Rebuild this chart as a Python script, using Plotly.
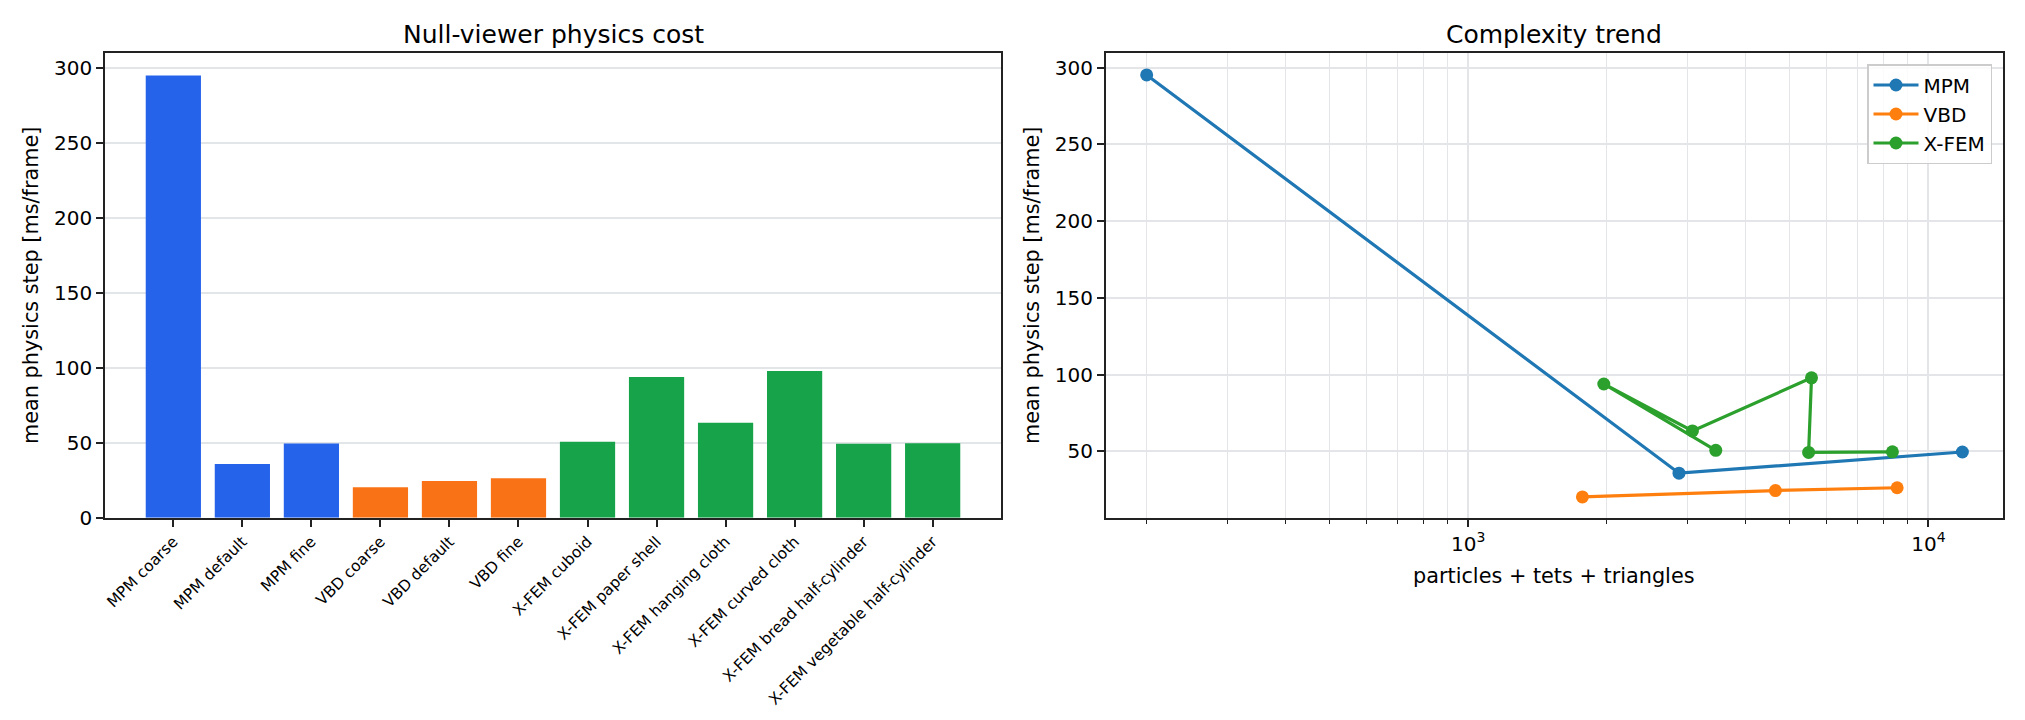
import plotly.graph_objects as go

# ---------------- data ----------------
labels = ["MPM coarse", "MPM default", "MPM fine",
          "VBD coarse", "VBD default", "VBD fine",
          "X-FEM cuboid", "X-FEM paper shell", "X-FEM hanging cloth",
          "X-FEM curved cloth", "X-FEM bread half-cylinder",
          "X-FEM vegetable half-cylinder"]
methods = ["MPM", "MPM", "MPM", "VBD", "VBD", "VBD",
           "X-FEM", "X-FEM", "X-FEM", "X-FEM", "X-FEM", "X-FEM"]
cost_ms = [295.2, 35.8, 49.6, 20.3, 24.5, 26.3, 50.7, 93.9, 63.3, 97.9, 49.3, 49.7]
complexity = [200, 2870, 11850, 1770, 4650, 8550, 3450, 1970, 3070, 5570, 5490, 8350]

method_order = ["MPM", "VBD", "X-FEM"]
minor_ticks = [200, 300, 400, 500, 600, 700, 800, 900,
               2000, 3000, 4000, 5000, 6000, 7000, 8000, 9000]
major_ticks = [1000, 10000]
major_text = ["10<sup>3</sup>", "10<sup>4</sup>"]

# ---------------- style ----------------
bar_colors = {"MPM": "#2563eb", "VBD": "#f97316", "X-FEM": "#16a34a"}
line_colors = {"MPM": "#1f77b4", "VBD": "#ff7f0e", "X-FEM": "#2ca02c"}
FONT = "DejaVu Sans"
SPINE = "#222222"
W, H = 2025, 720

def px_x(p):
    return p / W

def px_y(p):
    return 1 - p / H

fig = go.Figure()

fig.add_trace(go.Bar(
    x=labels, y=cost_ms,
    marker=dict(color=[bar_colors[m] for m in methods], line=dict(width=0)),
    width=0.8, xaxis="x", yaxis="y", showlegend=False,
))

for m in method_order:
    xs = [c for c, mm in zip(complexity, methods) if mm == m]
    ys = [v for v, mm in zip(cost_ms, methods) if mm == m]
    fig.add_trace(go.Scatter(
        x=xs, y=ys, mode="lines+markers", name=m,
        line=dict(color=line_colors[m], width=3.2),
        marker=dict(color=line_colors[m], size=13),
        xaxis="x2", yaxis="y2",
    ))

ydom = [px_y(517.7), px_y(53.3)]
axis_common = dict(
    showline=True, linecolor=SPINE, linewidth=1.6, mirror=True,
    ticks="outside", ticklen=7, tickwidth=1.5, tickcolor=SPINE,
    zeroline=False, automargin=False,
)

fig.update_layout(
    template="none",
    width=W, height=H, autosize=False,
    margin=dict(l=0, r=0, t=0, b=0, pad=0),
    paper_bgcolor="white", plot_bgcolor="white",
    font=dict(family=FONT, color="black", size=20),
    bargap=0.2,
    hovermode=False,
    xaxis=dict(
        domain=[px_x(105), px_x(1001)], anchor="y",
        range=[-0.99, 11.99], type="category",
        tickangle=-45, tickfont=dict(size=15.5),
        showgrid=False, **axis_common,
    ),
    yaxis=dict(
        domain=ydom, anchor="x",
        range=[0, 310], tickmode="array", tickvals=[0, 50, 100, 150, 200, 250, 300],
        tickfont=dict(size=20),
        showgrid=True, gridcolor="rgba(209,213,219,0.6)", gridwidth=1.5,
        layer="above traces",
        **axis_common,
    ),
    xaxis2=dict(
        domain=[px_x(1105.7), px_x(2003)], anchor="y2",
        type="log", range=[2.212, 4.162],
        tickmode="array", tickvals=major_ticks, ticktext=major_text,
        tickfont=dict(size=20),
        showgrid=True, gridcolor="#e3e5e8", gridwidth=1.5,
        minor=dict(tickmode="array", tickvals=minor_ticks, ticks="outside",
                   ticklen=4, tickwidth=1.2, tickcolor=SPINE,
                   showgrid=True, gridcolor="#e3e5e8", gridwidth=1.2),
        **axis_common,
    ),
    yaxis2=dict(
        domain=ydom, anchor="x2",
        range=[6.8, 309.3], tickmode="array", tickvals=[50, 100, 150, 200, 250, 300],
        tickfont=dict(size=20),
        showgrid=True, gridcolor="#e3e5e8", gridwidth=1.5,
        **axis_common,
    ),
    showlegend=True,
    legend=dict(
        x=px_x(1992), y=px_y(64), xanchor="right", yanchor="top",
        bgcolor="rgba(255,255,255,0.85)", bordercolor="#cccccc", borderwidth=1.5,
        font=dict(size=20, family=FONT), itemwidth=45,
        tracegroupgap=0,
    ),
)

annotations = [
    dict(text="Null-viewer physics cost", x=px_x(553), y=px_y(34),
         font=dict(size=25)),
    dict(text="Complexity trend", x=px_x(1554), y=px_y(34),
         font=dict(size=25)),
    dict(text="mean physics step [ms/frame]", x=px_x(30.5), y=px_y(285.5),
         textangle=-90, font=dict(size=20.8)),
    dict(text="mean physics step [ms/frame]", x=px_x(1031.5), y=px_y(285.5),
         textangle=-90, font=dict(size=20.8)),
    dict(text="particles + tets + triangles", x=px_x(1554), y=px_y(576),
         font=dict(size=20.8)),
]
for a in annotations:
    a.update(xref="paper", yref="paper", xanchor="center", yanchor="middle",
             showarrow=False)
fig.update_layout(annotations=annotations)

fig.write_html("out.html")
